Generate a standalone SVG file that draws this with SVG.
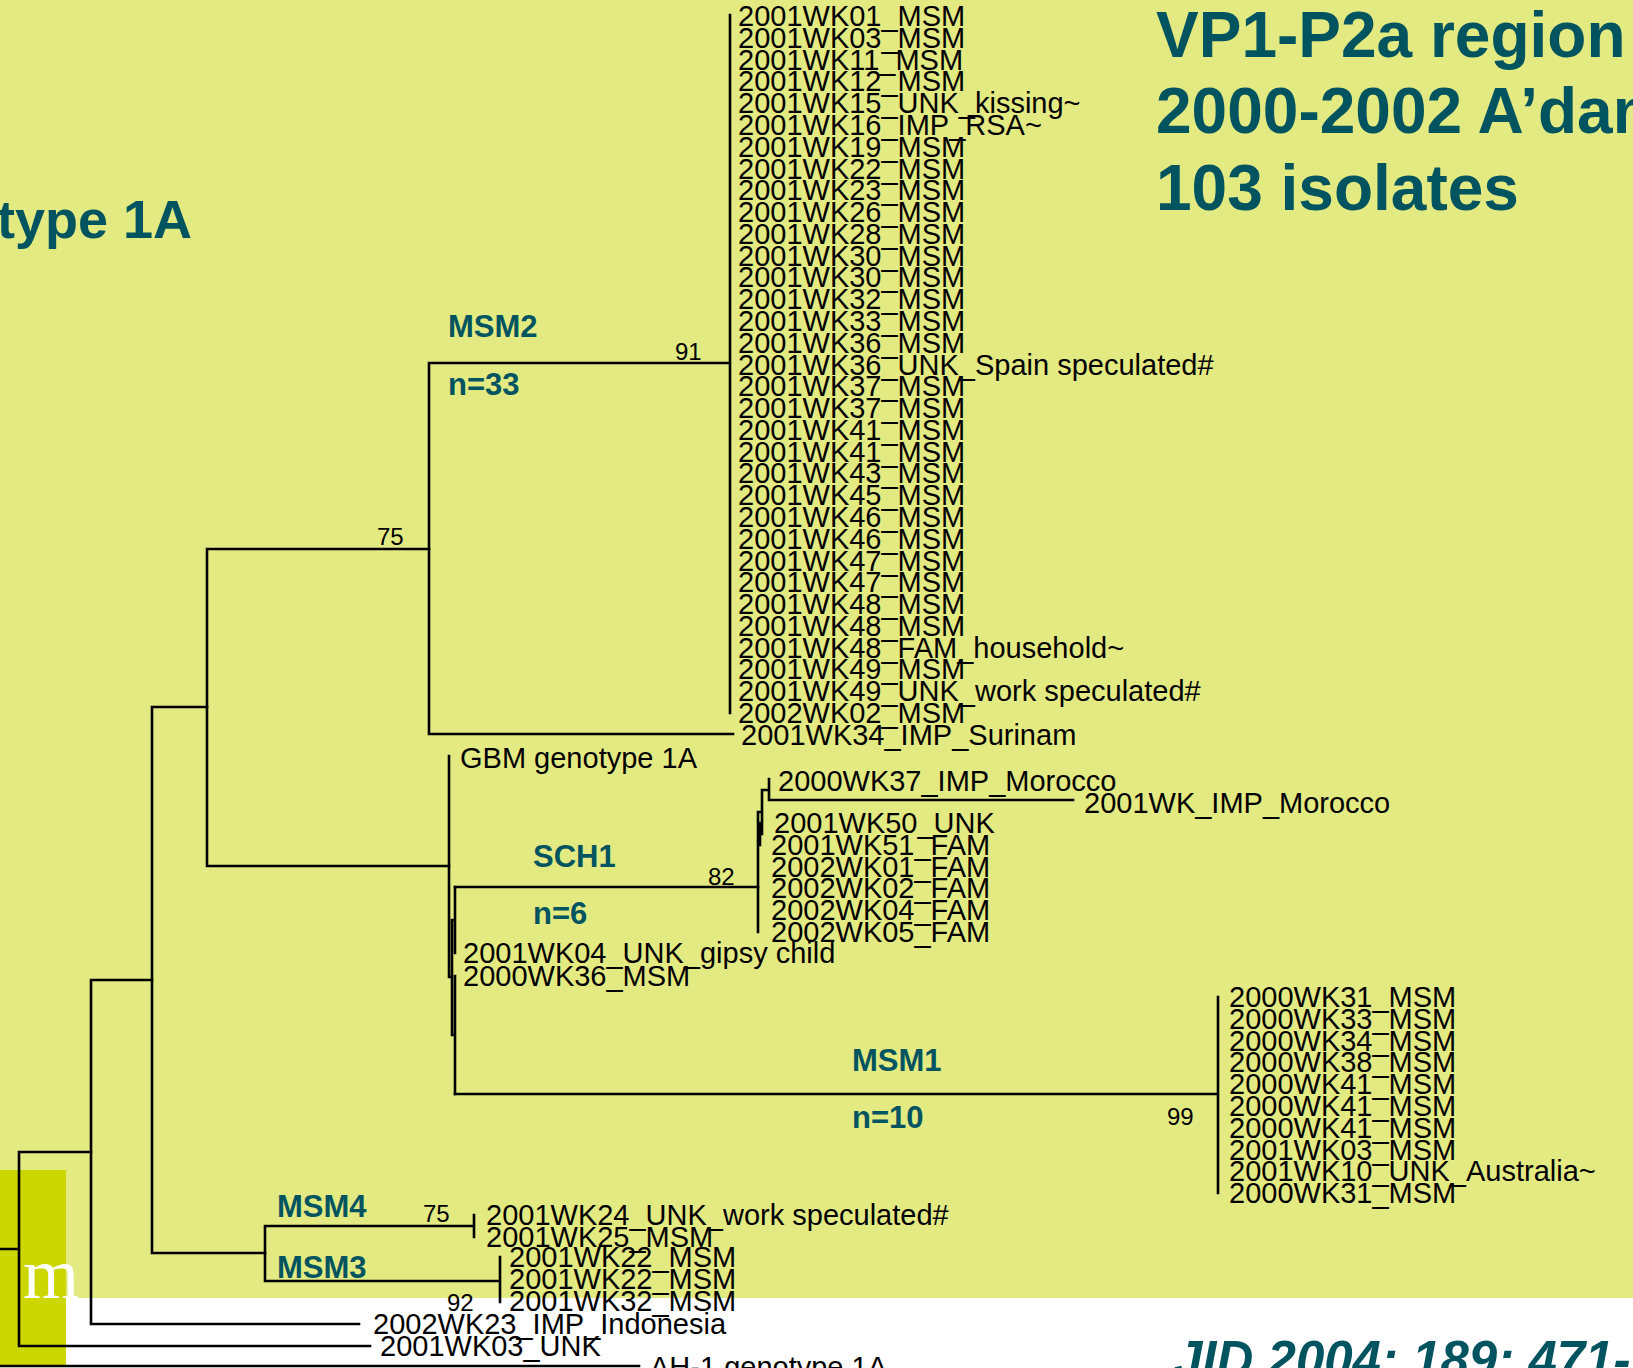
<svg xmlns="http://www.w3.org/2000/svg" width="1633" height="1368" viewBox="0 0 1633 1368">
<style>
.ln{stroke:#000;stroke-width:2.6;fill:none;stroke-linecap:square}
.lf{font-family:"Liberation Sans",Arial,sans-serif;font-size:29px;fill:#000}
.bs{font-family:"Liberation Sans",Arial,sans-serif;font-size:24px;fill:#000}
.cl{font-family:"Liberation Sans",Arial,sans-serif;font-size:31px;font-weight:bold;fill:#005460}
.tt{font-family:"Liberation Sans",Arial,sans-serif;font-size:64px;font-weight:bold;fill:#005460}
</style>
<rect x="0" y="0" width="1633" height="1368" fill="#E3EA82"/>
<rect x="0" y="1298" width="1633" height="70" fill="#FFFFFF"/>
<rect x="0" y="1170" width="66" height="196" fill="#CCD600"/>
<text x="23" y="1298" style="font-family:'Liberation Serif',serif;font-size:72px;fill:#FFFFFF">m</text>

<g id="titles">
<text class="tt" x="1156" y="57">VP1-P2a region</text>
<text class="tt" x="1156" y="133">2000-2002 A’dam</text>
<text class="tt" x="1156" y="210">103 isolates</text>
<text class="tt" x="-3" y="238" style="font-size:54px">type 1A</text>
<text class="tt" x="1174" y="1377" style="font-size:51px;font-style:italic">JID 2004; 189: 471-</text>
</g>

<g id="connectors" class="ln">
<path d="M0,1249H19 M19,1152V1346 M19,1152H91 M19,1346H370"/>
<path d="M91,980V1324 M91,1324H359 M91,980H152"/>
<path d="M152,707V1253 M152,707H207 M152,1253H265"/>
<path d="M265,1226V1281 M265,1226H474 M474,1215V1237 M265,1281H500 M500,1257V1302"/>
<path d="M207,549V866 M207,549H429 M207,866H449"/>
<path d="M429,363V734 M429,363H730 M429,734H733 M730,15V713"/>
<path d="M449,756V977 M449,977H452 M452,920V1035 M452,920H455 M455,887V953 M452,1035H455 M455,976V1094"/>
<path d="M455,887H758 M455,1094H1218 M1218,997V1193"/>
<path d="M758,812V932 M758,812H762 M762,790V834 M760,823V845 M762,790H769 M769,779V800 M769,800H1073"/>
<path d="M0,1366H639"/>
</g>

<g id="bootstrap">
<text class="bs" x="377" y="545">75</text>
<text class="bs" x="675" y="360">91</text>
<text class="bs" x="708" y="885">82</text>
<text class="bs" x="1167" y="1125">99</text>
<text class="bs" x="423" y="1222">75</text>
<text class="bs" x="447" y="1311">92</text>
</g>

<g id="clade-labels">
<text class="cl" x="448" y="337">MSM2</text>
<text class="cl" x="448" y="395">n=33</text>
<text class="cl" x="533" y="867">SCH1</text>
<text class="cl" x="533" y="924">n=6</text>
<text class="cl" x="852" y="1071">MSM1</text>
<text class="cl" x="852" y="1128">n=10</text>
<text class="cl" x="277" y="1217">MSM4</text>
<text class="cl" x="277" y="1278">MSM3</text>
</g>

<g id="clade-msm2" class="lf">
<text x="738" y="26">2001WK01_MSM</text>
<text x="738" y="47.8">2001WK03_MSM</text>
<text x="738" y="69.6">2001WK11_MSM</text>
<text x="738" y="91.3">2001WK12_MSM</text>
<text x="738" y="113.1">2001WK15_UNK_kissing~</text>
<text x="738" y="134.9">2001WK16_IMP_RSA~</text>
<text x="738" y="156.7">2001WK19_MSM</text>
<text x="738" y="178.5">2001WK22_MSM</text>
<text x="738" y="200.2">2001WK23_MSM</text>
<text x="738" y="222">2001WK26_MSM</text>
<text x="738" y="243.8">2001WK28_MSM</text>
<text x="738" y="265.6">2001WK30_MSM</text>
<text x="738" y="287.4">2001WK30_MSM</text>
<text x="738" y="309.1">2001WK32_MSM</text>
<text x="738" y="330.9">2001WK33_MSM</text>
<text x="738" y="352.7">2001WK36_MSM</text>
<text x="738" y="374.5">2001WK36_UNK_Spain speculated#</text>
<text x="738" y="396.3">2001WK37_MSM</text>
<text x="738" y="418">2001WK37_MSM</text>
<text x="738" y="439.8">2001WK41_MSM</text>
<text x="738" y="461.6">2001WK41_MSM</text>
<text x="738" y="483.4">2001WK43_MSM</text>
<text x="738" y="505.2">2001WK45_MSM</text>
<text x="738" y="526.9">2001WK46_MSM</text>
<text x="738" y="548.7">2001WK46_MSM</text>
<text x="738" y="570.5">2001WK47_MSM</text>
<text x="738" y="592.3">2001WK47_MSM</text>
<text x="738" y="614.1">2001WK48_MSM</text>
<text x="738" y="635.8">2001WK48_MSM</text>
<text x="738" y="657.6">2001WK48_FAM_household~</text>
<text x="738" y="679.4">2001WK49_MSM</text>
<text x="738" y="701.2">2001WK49_UNK_work speculated#</text>
<text x="738" y="723">2002WK02_MSM</text>
</g>

<g id="leaf-surinam" class="lf"><text x="741" y="745">2001WK34_IMP_Surinam</text></g>
<g id="leaf-gbm" class="lf"><text x="460" y="768">GBM genotype 1A</text></g>

<g id="clade-sch1" class="lf">
<text x="778" y="791">2000WK37_IMP_Morocco</text>
<text x="1084" y="813">2001WK_IMP_Morocco</text>
<text x="774" y="833">2001WK50_UNK</text>
<text x="771" y="854.8">2001WK51_FAM</text>
<text x="771" y="876.6">2002WK01_FAM</text>
<text x="771" y="898.3">2002WK02_FAM</text>
<text x="771" y="920.1">2002WK04_FAM</text>
<text x="771" y="941.9">2002WK05_FAM</text>
</g>

<g id="leaf-gipsy" class="lf"><text x="463" y="963">2001WK04_UNK_gipsy child</text></g>
<g id="leaf-2000wk36" class="lf"><text x="463" y="986">2000WK36_MSM</text></g>

<g id="clade-msm1" class="lf">
<text x="1229" y="1007">2000WK31_MSM</text>
<text x="1229" y="1028.8">2000WK33_MSM</text>
<text x="1229" y="1050.6">2000WK34_MSM</text>
<text x="1229" y="1072.3">2000WK38_MSM</text>
<text x="1229" y="1094.1">2000WK41_MSM</text>
<text x="1229" y="1115.9">2000WK41_MSM</text>
<text x="1229" y="1137.7">2000WK41_MSM</text>
<text x="1229" y="1159.5">2001WK03_MSM</text>
<text x="1229" y="1181.2">2001WK10_UNK_Australia~</text>
<text x="1229" y="1203">2000WK31_MSM</text>
</g>

<g id="clade-msm4" class="lf">
<text x="486" y="1225">2001WK24_UNK_work speculated#</text>
<text x="486" y="1247">2001WK25_MSM</text>
</g>

<g id="clade-msm3" class="lf">
<text x="509" y="1267">2001WK22_MSM</text>
<text x="509" y="1289">2001WK22_MSM</text>
<text x="509" y="1311">2001WK32_MSM</text>
</g>

<g id="leaf-indonesia" class="lf"><text x="373" y="1334">2002WK23_IMP_Indonesia</text></g>
<g id="leaf-2001wk03" class="lf"><text x="380" y="1356">2001WK03_UNK</text></g>
<g id="leaf-ah1" class="lf"><text x="650" y="1377">AH-1 genotype 1A</text></g>
</svg>
